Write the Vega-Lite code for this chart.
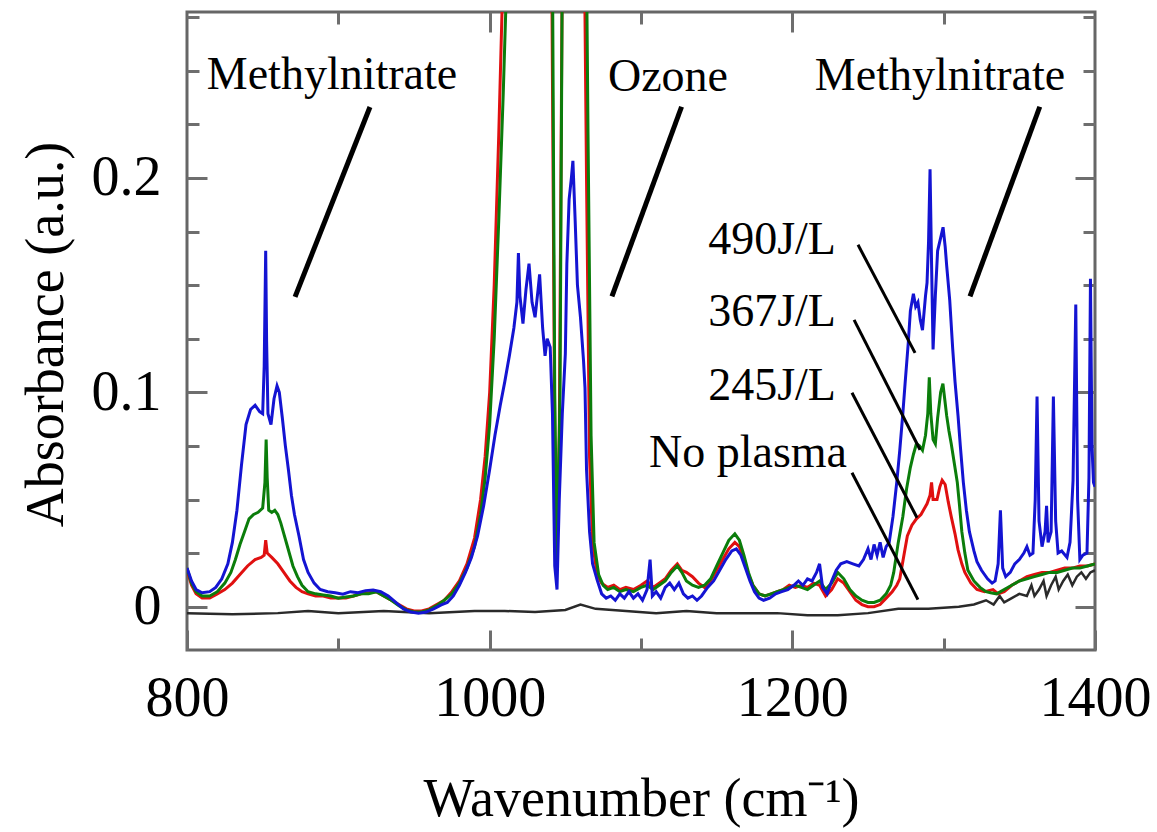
{
  "$schema": "https://vega.github.io/schema/vega-lite/v6.json",
  "width": 908,
  "height": 638,
  "autosize": {"type": "none"},
  "padding": {"left": 187, "top": 12, "right": 62, "bottom": 182},
  "background": "white",
  "config": {
    "view": {"stroke": "#666666", "strokeWidth": 3},
    "font": "Liberation Serif",
    "axis": {"domain": false, "grid": false, "tickColor": "#6e6e6e", "tickWidth": 3, "labelFont": "Liberation Serif", "titleFont": "Liberation Serif", "labelColor": "black", "titleColor": "black", "titleFontWeight": "normal"}
  },
  "datasets": {
    "noplasma": [
      {"wn": 800, "abs": -0.003}, {"wn": 830, "abs": -0.0035}, {"wn": 860, "abs": -0.003}, {"wn": 880, "abs": -0.002},
      {"wn": 900, "abs": -0.003}, {"wn": 930, "abs": -0.002}, {"wn": 960, "abs": -0.003}, {"wn": 990, "abs": -0.002},
      {"wn": 1010, "abs": -0.002}, {"wn": 1030, "abs": -0.0025}, {"wn": 1050, "abs": -0.0015}, {"wn": 1060, "abs": 0.001},
      {"wn": 1070, "abs": -0.001}, {"wn": 1090, "abs": -0.002}, {"wn": 1110, "abs": -0.003}, {"wn": 1130, "abs": -0.002},
      {"wn": 1150, "abs": -0.003}, {"wn": 1170, "abs": -0.003}, {"wn": 1190, "abs": -0.003}, {"wn": 1210, "abs": -0.004},
      {"wn": 1230, "abs": -0.004}, {"wn": 1250, "abs": -0.003}, {"wn": 1270, "abs": -0.001}, {"wn": 1290, "abs": -0.001},
      {"wn": 1310, "abs": 0.0}, {"wn": 1320, "abs": 0.001}, {"wn": 1328, "abs": 0.003}, {"wn": 1333, "abs": 0.001},
      {"wn": 1337, "abs": 0.005}, {"wn": 1340, "abs": 0.002}, {"wn": 1345, "abs": 0.004}, {"wn": 1350, "abs": 0.006},
      {"wn": 1355, "abs": 0.005}, {"wn": 1358, "abs": 0.01}, {"wn": 1360, "abs": 0.005}, {"wn": 1363, "abs": 0.008},
      {"wn": 1366, "abs": 0.012}, {"wn": 1368, "abs": 0.005}, {"wn": 1371, "abs": 0.01}, {"wn": 1374, "abs": 0.014},
      {"wn": 1376, "abs": 0.008}, {"wn": 1379, "abs": 0.012}, {"wn": 1382, "abs": 0.015}, {"wn": 1385, "abs": 0.01},
      {"wn": 1388, "abs": 0.014}, {"wn": 1391, "abs": 0.016}, {"wn": 1394, "abs": 0.013}, {"wn": 1397, "abs": 0.016},
      {"wn": 1400, "abs": 0.017}
    ],
    "j245": [
      {"wn": 800, "abs": 0.017}, {"wn": 803, "abs": 0.01}, {"wn": 806, "abs": 0.006}, {"wn": 810, "abs": 0.004},
      {"wn": 815, "abs": 0.004}, {"wn": 820, "abs": 0.006}, {"wn": 825, "abs": 0.008}, {"wn": 830, "abs": 0.011},
      {"wn": 835, "abs": 0.015}, {"wn": 840, "abs": 0.019}, {"wn": 845, "abs": 0.022}, {"wn": 849, "abs": 0.023},
      {"wn": 851, "abs": 0.024}, {"wn": 852, "abs": 0.031}, {"wn": 853, "abs": 0.025}, {"wn": 856, "abs": 0.023},
      {"wn": 860, "abs": 0.02}, {"wn": 864, "abs": 0.016}, {"wn": 868, "abs": 0.012}, {"wn": 872, "abs": 0.009},
      {"wn": 876, "abs": 0.007}, {"wn": 880, "abs": 0.006}, {"wn": 885, "abs": 0.005}, {"wn": 890, "abs": 0.005},
      {"wn": 895, "abs": 0.004}, {"wn": 900, "abs": 0.004}, {"wn": 905, "abs": 0.004}, {"wn": 910, "abs": 0.005},
      {"wn": 915, "abs": 0.006}, {"wn": 920, "abs": 0.0065}, {"wn": 925, "abs": 0.007}, {"wn": 930, "abs": 0.005},
      {"wn": 935, "abs": 0.003}, {"wn": 940, "abs": 0.001}, {"wn": 945, "abs": -0.001}, {"wn": 950, "abs": -0.002},
      {"wn": 955, "abs": -0.002}, {"wn": 960, "abs": -0.001}, {"wn": 965, "abs": 0.001}, {"wn": 970, "abs": 0.003},
      {"wn": 975, "abs": 0.007}, {"wn": 980, "abs": 0.012}, {"wn": 985, "abs": 0.02}, {"wn": 990, "abs": 0.032},
      {"wn": 994, "abs": 0.05}, {"wn": 997, "abs": 0.07}, {"wn": 1000, "abs": 0.1}, {"wn": 1003, "abs": 0.15},
      {"wn": 1006, "abs": 0.22}, {"wn": 1009, "abs": 0.3}, {"wn": 1012, "abs": 0.38}, {"wn": 1016, "abs": 0.45},
      {"wn": 1030, "abs": 0.5}, {"wn": 1039, "abs": 0.45}, {"wn": 1041, "abs": 0.3}, {"wn": 1043, "abs": 0.08},
      {"wn": 1044.5, "abs": 0.025}, {"wn": 1046, "abs": 0.08}, {"wn": 1048, "abs": 0.3}, {"wn": 1050, "abs": 0.45},
      {"wn": 1060, "abs": 0.45}, {"wn": 1062, "abs": 0.35}, {"wn": 1064, "abs": 0.2}, {"wn": 1066, "abs": 0.07},
      {"wn": 1068, "abs": 0.03}, {"wn": 1071, "abs": 0.015}, {"wn": 1074, "abs": 0.011}, {"wn": 1078, "abs": 0.009},
      {"wn": 1082, "abs": 0.01}, {"wn": 1086, "abs": 0.008}, {"wn": 1090, "abs": 0.009}, {"wn": 1095, "abs": 0.008},
      {"wn": 1100, "abs": 0.01}, {"wn": 1104, "abs": 0.012}, {"wn": 1108, "abs": 0.009}, {"wn": 1112, "abs": 0.011},
      {"wn": 1116, "abs": 0.013}, {"wn": 1120, "abs": 0.017}, {"wn": 1124, "abs": 0.02}, {"wn": 1127, "abs": 0.017},
      {"wn": 1130, "abs": 0.016}, {"wn": 1134, "abs": 0.014}, {"wn": 1138, "abs": 0.011}, {"wn": 1142, "abs": 0.009},
      {"wn": 1146, "abs": 0.012}, {"wn": 1150, "abs": 0.017}, {"wn": 1154, "abs": 0.022}, {"wn": 1158, "abs": 0.027},
      {"wn": 1162, "abs": 0.03}, {"wn": 1165, "abs": 0.028}, {"wn": 1168, "abs": 0.022}, {"wn": 1171, "abs": 0.015},
      {"wn": 1174, "abs": 0.01}, {"wn": 1178, "abs": 0.006}, {"wn": 1182, "abs": 0.005}, {"wn": 1186, "abs": 0.006},
      {"wn": 1190, "abs": 0.007}, {"wn": 1194, "abs": 0.008}, {"wn": 1198, "abs": 0.01}, {"wn": 1202, "abs": 0.009},
      {"wn": 1206, "abs": 0.01}, {"wn": 1210, "abs": 0.009}, {"wn": 1214, "abs": 0.011}, {"wn": 1218, "abs": 0.01},
      {"wn": 1222, "abs": 0.005}, {"wn": 1226, "abs": 0.008}, {"wn": 1230, "abs": 0.013}, {"wn": 1234, "abs": 0.011},
      {"wn": 1238, "abs": 0.007}, {"wn": 1242, "abs": 0.003}, {"wn": 1246, "abs": 0.001}, {"wn": 1250, "abs": 0.0},
      {"wn": 1254, "abs": 0.0}, {"wn": 1258, "abs": 0.001}, {"wn": 1262, "abs": 0.004}, {"wn": 1266, "abs": 0.007},
      {"wn": 1269, "abs": 0.01}, {"wn": 1271, "abs": 0.013}, {"wn": 1274, "abs": 0.025}, {"wn": 1276, "abs": 0.033},
      {"wn": 1279, "abs": 0.038}, {"wn": 1282, "abs": 0.041}, {"wn": 1285, "abs": 0.043}, {"wn": 1289, "abs": 0.048},
      {"wn": 1291, "abs": 0.052}, {"wn": 1292, "abs": 0.058}, {"wn": 1293, "abs": 0.05}, {"wn": 1295.6, "abs": 0.05},
      {"wn": 1297.5, "abs": 0.056}, {"wn": 1299, "abs": 0.059}, {"wn": 1301, "abs": 0.057}, {"wn": 1303, "abs": 0.049},
      {"wn": 1305, "abs": 0.042}, {"wn": 1307.5, "abs": 0.034}, {"wn": 1309.5, "abs": 0.0265}, {"wn": 1312, "abs": 0.02},
      {"wn": 1314, "abs": 0.016}, {"wn": 1318, "abs": 0.011}, {"wn": 1322, "abs": 0.008}, {"wn": 1327, "abs": 0.007},
      {"wn": 1332.6, "abs": 0.008}, {"wn": 1336, "abs": 0.006}, {"wn": 1340, "abs": 0.007}, {"wn": 1345, "abs": 0.01},
      {"wn": 1350, "abs": 0.012}, {"wn": 1355, "abs": 0.014}, {"wn": 1360, "abs": 0.015}, {"wn": 1365, "abs": 0.016},
      {"wn": 1370, "abs": 0.016}, {"wn": 1375, "abs": 0.017}, {"wn": 1380, "abs": 0.018}, {"wn": 1385, "abs": 0.018},
      {"wn": 1390, "abs": 0.019}, {"wn": 1395, "abs": 0.019}, {"wn": 1400, "abs": 0.02}
    ],
    "j367": [
      {"wn": 800, "abs": 0.018}, {"wn": 803, "abs": 0.011}, {"wn": 806, "abs": 0.007}, {"wn": 810, "abs": 0.005},
      {"wn": 815, "abs": 0.005}, {"wn": 820, "abs": 0.007}, {"wn": 825, "abs": 0.011}, {"wn": 829, "abs": 0.016},
      {"wn": 832, "abs": 0.022}, {"wn": 835, "abs": 0.029}, {"wn": 838, "abs": 0.035}, {"wn": 841, "abs": 0.041},
      {"wn": 844, "abs": 0.043}, {"wn": 847, "abs": 0.044}, {"wn": 850, "abs": 0.046}, {"wn": 851.5, "abs": 0.058},
      {"wn": 852.3, "abs": 0.078}, {"wn": 853, "abs": 0.06}, {"wn": 854, "abs": 0.045}, {"wn": 856, "abs": 0.044},
      {"wn": 858, "abs": 0.045}, {"wn": 860, "abs": 0.043}, {"wn": 862, "abs": 0.039}, {"wn": 864, "abs": 0.034},
      {"wn": 866, "abs": 0.029}, {"wn": 868, "abs": 0.024}, {"wn": 870, "abs": 0.019}, {"wn": 873, "abs": 0.014},
      {"wn": 876, "abs": 0.01}, {"wn": 880, "abs": 0.007}, {"wn": 885, "abs": 0.006}, {"wn": 890, "abs": 0.0055},
      {"wn": 895, "abs": 0.005}, {"wn": 900, "abs": 0.004}, {"wn": 905, "abs": 0.0045}, {"wn": 910, "abs": 0.005},
      {"wn": 915, "abs": 0.006}, {"wn": 920, "abs": 0.006}, {"wn": 925, "abs": 0.007}, {"wn": 930, "abs": 0.005},
      {"wn": 935, "abs": 0.003}, {"wn": 940, "abs": 0.0005}, {"wn": 945, "abs": -0.0015}, {"wn": 950, "abs": -0.0025},
      {"wn": 955, "abs": -0.0025}, {"wn": 960, "abs": -0.0015}, {"wn": 965, "abs": 0.0005}, {"wn": 970, "abs": 0.003},
      {"wn": 975, "abs": 0.006}, {"wn": 980, "abs": 0.011}, {"wn": 985, "abs": 0.018}, {"wn": 990, "abs": 0.028},
      {"wn": 994, "abs": 0.043}, {"wn": 997, "abs": 0.06}, {"wn": 1000, "abs": 0.085}, {"wn": 1003, "abs": 0.125},
      {"wn": 1006, "abs": 0.18}, {"wn": 1009, "abs": 0.24}, {"wn": 1012, "abs": 0.31}, {"wn": 1015, "abs": 0.38},
      {"wn": 1018, "abs": 0.45}, {"wn": 1030, "abs": 0.5}, {"wn": 1040, "abs": 0.45}, {"wn": 1041.5, "abs": 0.3},
      {"wn": 1043, "abs": 0.1}, {"wn": 1044.5, "abs": 0.02}, {"wn": 1046.5, "abs": 0.1}, {"wn": 1048, "abs": 0.3},
      {"wn": 1050, "abs": 0.45}, {"wn": 1061, "abs": 0.45}, {"wn": 1063, "abs": 0.38}, {"wn": 1065, "abs": 0.22},
      {"wn": 1067, "abs": 0.08}, {"wn": 1069, "abs": 0.03}, {"wn": 1072, "abs": 0.015}, {"wn": 1075, "abs": 0.01},
      {"wn": 1078, "abs": 0.008}, {"wn": 1082, "abs": 0.009}, {"wn": 1086, "abs": 0.007}, {"wn": 1090, "abs": 0.008},
      {"wn": 1095, "abs": 0.007}, {"wn": 1100, "abs": 0.009}, {"wn": 1104, "abs": 0.01}, {"wn": 1108, "abs": 0.008},
      {"wn": 1112, "abs": 0.01}, {"wn": 1116, "abs": 0.012}, {"wn": 1120, "abs": 0.016}, {"wn": 1124, "abs": 0.019},
      {"wn": 1127, "abs": 0.016}, {"wn": 1130, "abs": 0.012}, {"wn": 1134, "abs": 0.01}, {"wn": 1138, "abs": 0.009},
      {"wn": 1142, "abs": 0.01}, {"wn": 1146, "abs": 0.013}, {"wn": 1150, "abs": 0.019}, {"wn": 1154, "abs": 0.025},
      {"wn": 1158, "abs": 0.031}, {"wn": 1162, "abs": 0.034}, {"wn": 1165, "abs": 0.031}, {"wn": 1168, "abs": 0.024},
      {"wn": 1171, "abs": 0.016}, {"wn": 1174, "abs": 0.01}, {"wn": 1178, "abs": 0.006}, {"wn": 1182, "abs": 0.005},
      {"wn": 1186, "abs": 0.006}, {"wn": 1190, "abs": 0.007}, {"wn": 1194, "abs": 0.008}, {"wn": 1198, "abs": 0.009},
      {"wn": 1202, "abs": 0.01}, {"wn": 1206, "abs": 0.009}, {"wn": 1210, "abs": 0.008}, {"wn": 1214, "abs": 0.01},
      {"wn": 1218, "abs": 0.012}, {"wn": 1222, "abs": 0.008}, {"wn": 1226, "abs": 0.011}, {"wn": 1230, "abs": 0.016},
      {"wn": 1234, "abs": 0.013}, {"wn": 1238, "abs": 0.008}, {"wn": 1242, "abs": 0.005}, {"wn": 1246, "abs": 0.003},
      {"wn": 1250, "abs": 0.002}, {"wn": 1254, "abs": 0.002}, {"wn": 1258, "abs": 0.003}, {"wn": 1262, "abs": 0.006},
      {"wn": 1265, "abs": 0.01}, {"wn": 1267, "abs": 0.016}, {"wn": 1270, "abs": 0.03}, {"wn": 1273, "abs": 0.042},
      {"wn": 1275.5, "abs": 0.055}, {"wn": 1278, "abs": 0.065}, {"wn": 1280, "abs": 0.071}, {"wn": 1282, "abs": 0.076},
      {"wn": 1284, "abs": 0.075}, {"wn": 1286, "abs": 0.073}, {"wn": 1288, "abs": 0.08}, {"wn": 1289.5, "abs": 0.09},
      {"wn": 1290.5, "abs": 0.107}, {"wn": 1291.5, "abs": 0.09}, {"wn": 1293, "abs": 0.078}, {"wn": 1294.5, "abs": 0.076},
      {"wn": 1296, "abs": 0.088}, {"wn": 1298, "abs": 0.1}, {"wn": 1299.5, "abs": 0.104}, {"wn": 1301, "abs": 0.095},
      {"wn": 1302, "abs": 0.089}, {"wn": 1303.5, "abs": 0.082}, {"wn": 1305, "abs": 0.076}, {"wn": 1307, "abs": 0.067},
      {"wn": 1309, "abs": 0.058}, {"wn": 1310.5, "abs": 0.047}, {"wn": 1312, "abs": 0.035}, {"wn": 1314, "abs": 0.025},
      {"wn": 1316, "abs": 0.017}, {"wn": 1320, "abs": 0.012}, {"wn": 1324, "abs": 0.009}, {"wn": 1328, "abs": 0.007},
      {"wn": 1331, "abs": 0.0065}, {"wn": 1335, "abs": 0.006}, {"wn": 1340, "abs": 0.008}, {"wn": 1345, "abs": 0.01},
      {"wn": 1350, "abs": 0.012}, {"wn": 1355, "abs": 0.013}, {"wn": 1360, "abs": 0.014}, {"wn": 1365, "abs": 0.015},
      {"wn": 1370, "abs": 0.016}, {"wn": 1375, "abs": 0.016}, {"wn": 1380, "abs": 0.017}, {"wn": 1385, "abs": 0.018},
      {"wn": 1390, "abs": 0.018}, {"wn": 1395, "abs": 0.019}, {"wn": 1400, "abs": 0.02}
    ],
    "j490": [
      {"wn": 800, "abs": 0.018}, {"wn": 803, "abs": 0.012}, {"wn": 806, "abs": 0.008}, {"wn": 810, "abs": 0.0065},
      {"wn": 815, "abs": 0.007}, {"wn": 819, "abs": 0.009}, {"wn": 823, "abs": 0.013}, {"wn": 827, "abs": 0.02},
      {"wn": 830, "abs": 0.03}, {"wn": 833, "abs": 0.045}, {"wn": 836, "abs": 0.066}, {"wn": 839, "abs": 0.085},
      {"wn": 842, "abs": 0.092}, {"wn": 845, "abs": 0.094}, {"wn": 848, "abs": 0.091}, {"wn": 850, "abs": 0.09},
      {"wn": 851, "abs": 0.112}, {"wn": 852, "abs": 0.166}, {"wn": 852.6, "abs": 0.124}, {"wn": 853.5, "abs": 0.09},
      {"wn": 855.5, "abs": 0.085}, {"wn": 857.5, "abs": 0.097}, {"wn": 859.5, "abs": 0.103}, {"wn": 861, "abs": 0.1},
      {"wn": 863, "abs": 0.088}, {"wn": 865, "abs": 0.075}, {"wn": 867, "abs": 0.064}, {"wn": 869, "abs": 0.052},
      {"wn": 871, "abs": 0.043}, {"wn": 874, "abs": 0.033}, {"wn": 877, "abs": 0.022}, {"wn": 880, "abs": 0.016},
      {"wn": 884, "abs": 0.011}, {"wn": 888, "abs": 0.008}, {"wn": 893, "abs": 0.007}, {"wn": 898, "abs": 0.0065},
      {"wn": 903, "abs": 0.0058}, {"wn": 908, "abs": 0.007}, {"wn": 913, "abs": 0.0065}, {"wn": 918, "abs": 0.0075},
      {"wn": 923, "abs": 0.0078}, {"wn": 928, "abs": 0.007}, {"wn": 933, "abs": 0.005}, {"wn": 938, "abs": 0.002},
      {"wn": 943, "abs": -0.001}, {"wn": 948, "abs": -0.0025}, {"wn": 953, "abs": -0.003}, {"wn": 958, "abs": -0.0025},
      {"wn": 963, "abs": -0.001}, {"wn": 968, "abs": 0.0008}, {"wn": 972, "abs": 0.002}, {"wn": 976, "abs": 0.005},
      {"wn": 980, "abs": 0.01}, {"wn": 984, "abs": 0.016}, {"wn": 988, "abs": 0.023}, {"wn": 992, "abs": 0.033},
      {"wn": 996, "abs": 0.047}, {"wn": 1000, "abs": 0.064}, {"wn": 1003.5, "abs": 0.08}, {"wn": 1007, "abs": 0.094},
      {"wn": 1010, "abs": 0.105}, {"wn": 1013, "abs": 0.117}, {"wn": 1016, "abs": 0.13}, {"wn": 1018, "abs": 0.142},
      {"wn": 1019, "abs": 0.165}, {"wn": 1020, "abs": 0.145}, {"wn": 1022, "abs": 0.132}, {"wn": 1024, "abs": 0.148},
      {"wn": 1026, "abs": 0.16}, {"wn": 1028, "abs": 0.142}, {"wn": 1030, "abs": 0.135}, {"wn": 1032, "abs": 0.148},
      {"wn": 1033, "abs": 0.155}, {"wn": 1035, "abs": 0.13}, {"wn": 1036.6, "abs": 0.117}, {"wn": 1038, "abs": 0.125},
      {"wn": 1040, "abs": 0.121}, {"wn": 1041.5, "abs": 0.09}, {"wn": 1043, "abs": 0.019}, {"wn": 1044.5, "abs": 0.008},
      {"wn": 1046, "abs": 0.05}, {"wn": 1048, "abs": 0.09}, {"wn": 1050, "abs": 0.118}, {"wn": 1051, "abs": 0.16},
      {"wn": 1052.5, "abs": 0.19}, {"wn": 1054, "abs": 0.2}, {"wn": 1055, "abs": 0.208}, {"wn": 1056.5, "abs": 0.18},
      {"wn": 1058, "abs": 0.15}, {"wn": 1060, "abs": 0.135}, {"wn": 1062, "abs": 0.115}, {"wn": 1063, "abs": 0.102},
      {"wn": 1064, "abs": 0.064}, {"wn": 1066, "abs": 0.035}, {"wn": 1068, "abs": 0.02}, {"wn": 1071, "abs": 0.0125},
      {"wn": 1074, "abs": 0.006}, {"wn": 1077, "abs": 0.004}, {"wn": 1080, "abs": 0.005}, {"wn": 1083, "abs": 0.003},
      {"wn": 1086, "abs": 0.006}, {"wn": 1089, "abs": 0.004}, {"wn": 1092, "abs": 0.007}, {"wn": 1095, "abs": 0.004},
      {"wn": 1098, "abs": 0.006}, {"wn": 1101, "abs": 0.003}, {"wn": 1104, "abs": 0.008}, {"wn": 1106, "abs": 0.022},
      {"wn": 1107.5, "abs": 0.005}, {"wn": 1110, "abs": 0.007}, {"wn": 1113, "abs": 0.004}, {"wn": 1116, "abs": 0.009},
      {"wn": 1119, "abs": 0.011}, {"wn": 1122, "abs": 0.008}, {"wn": 1125, "abs": 0.011}, {"wn": 1128, "abs": 0.006},
      {"wn": 1131, "abs": 0.004}, {"wn": 1134, "abs": 0.005}, {"wn": 1137, "abs": 0.003}, {"wn": 1140, "abs": 0.005},
      {"wn": 1144, "abs": 0.009}, {"wn": 1148, "abs": 0.012}, {"wn": 1152, "abs": 0.017}, {"wn": 1156, "abs": 0.022},
      {"wn": 1160, "abs": 0.026}, {"wn": 1163, "abs": 0.027}, {"wn": 1166, "abs": 0.024}, {"wn": 1169, "abs": 0.018},
      {"wn": 1172, "abs": 0.012}, {"wn": 1175, "abs": 0.007}, {"wn": 1178, "abs": 0.004}, {"wn": 1181, "abs": 0.003},
      {"wn": 1185, "abs": 0.004}, {"wn": 1189, "abs": 0.006}, {"wn": 1193, "abs": 0.007}, {"wn": 1197, "abs": 0.008},
      {"wn": 1201, "abs": 0.01}, {"wn": 1204, "abs": 0.012}, {"wn": 1207, "abs": 0.01}, {"wn": 1210, "abs": 0.013},
      {"wn": 1213, "abs": 0.012}, {"wn": 1216, "abs": 0.016}, {"wn": 1218, "abs": 0.02}, {"wn": 1220, "abs": 0.009},
      {"wn": 1223, "abs": 0.006}, {"wn": 1226, "abs": 0.012}, {"wn": 1229, "abs": 0.017}, {"wn": 1232, "abs": 0.02},
      {"wn": 1236, "abs": 0.021}, {"wn": 1240, "abs": 0.02}, {"wn": 1244, "abs": 0.019}, {"wn": 1247, "abs": 0.022},
      {"wn": 1250, "abs": 0.027}, {"wn": 1252, "abs": 0.022}, {"wn": 1254, "abs": 0.029}, {"wn": 1256, "abs": 0.024},
      {"wn": 1258, "abs": 0.03}, {"wn": 1260, "abs": 0.023}, {"wn": 1262, "abs": 0.028}, {"wn": 1264, "abs": 0.03},
      {"wn": 1266.5, "abs": 0.042}, {"wn": 1269, "abs": 0.058}, {"wn": 1271, "abs": 0.073}, {"wn": 1273, "abs": 0.09},
      {"wn": 1274.5, "abs": 0.104}, {"wn": 1276.6, "abs": 0.123}, {"wn": 1278, "abs": 0.138}, {"wn": 1280, "abs": 0.146},
      {"wn": 1281.5, "abs": 0.14}, {"wn": 1283, "abs": 0.142}, {"wn": 1284.5, "abs": 0.134}, {"wn": 1286, "abs": 0.129},
      {"wn": 1288, "abs": 0.145}, {"wn": 1289, "abs": 0.151}, {"wn": 1290, "abs": 0.17}, {"wn": 1291, "abs": 0.204},
      {"wn": 1292, "abs": 0.16}, {"wn": 1293, "abs": 0.12}, {"wn": 1294.5, "abs": 0.145}, {"wn": 1296, "abs": 0.166},
      {"wn": 1298, "abs": 0.172}, {"wn": 1299.6, "abs": 0.177}, {"wn": 1301, "abs": 0.168}, {"wn": 1302, "abs": 0.159},
      {"wn": 1304, "abs": 0.143}, {"wn": 1306, "abs": 0.12}, {"wn": 1307.5, "abs": 0.105}, {"wn": 1309.5, "abs": 0.089},
      {"wn": 1311, "abs": 0.075}, {"wn": 1313, "abs": 0.058}, {"wn": 1315, "abs": 0.045}, {"wn": 1317, "abs": 0.035},
      {"wn": 1320, "abs": 0.026}, {"wn": 1322, "abs": 0.021}, {"wn": 1325, "abs": 0.017}, {"wn": 1329, "abs": 0.013},
      {"wn": 1332, "abs": 0.011}, {"wn": 1334, "abs": 0.012}, {"wn": 1336, "abs": 0.02}, {"wn": 1337.5, "abs": 0.045},
      {"wn": 1339, "abs": 0.018}, {"wn": 1341, "abs": 0.014}, {"wn": 1344, "abs": 0.016}, {"wn": 1347, "abs": 0.02},
      {"wn": 1350, "abs": 0.022}, {"wn": 1353, "abs": 0.025}, {"wn": 1355, "abs": 0.028}, {"wn": 1357, "abs": 0.024},
      {"wn": 1359, "abs": 0.025}, {"wn": 1360.5, "abs": 0.05}, {"wn": 1361.7, "abs": 0.098}, {"wn": 1363, "abs": 0.04},
      {"wn": 1365, "abs": 0.028}, {"wn": 1367, "abs": 0.035}, {"wn": 1368, "abs": 0.047}, {"wn": 1369, "abs": 0.03},
      {"wn": 1371, "abs": 0.035}, {"wn": 1372.5, "abs": 0.098}, {"wn": 1374, "abs": 0.04}, {"wn": 1375.6, "abs": 0.025},
      {"wn": 1378, "abs": 0.026}, {"wn": 1381.5, "abs": 0.023}, {"wn": 1383.5, "abs": 0.03}, {"wn": 1385.5, "abs": 0.059},
      {"wn": 1387.3, "abs": 0.141}, {"wn": 1388.5, "abs": 0.05}, {"wn": 1390, "abs": 0.022}, {"wn": 1392, "abs": 0.024},
      {"wn": 1394.7, "abs": 0.025}, {"wn": 1396, "abs": 0.06}, {"wn": 1397, "abs": 0.153}, {"wn": 1398, "abs": 0.075},
      {"wn": 1399, "abs": 0.058}, {"wn": 1400, "abs": 0.056}
    ],
    "leadBig": [
      {"x1": 920.9, "y1": 0.2331, "x2": 871.4, "y2": 0.1445},
      {"x1": 1126.8, "y1": 0.2332, "x2": 1080.8, "y2": 0.1447},
      {"x1": 1363.5, "y1": 0.2332, "x2": 1317.4, "y2": 0.1447}
    ],
    "leadSmall": [
      {"x1": 1243.4, "y1": 0.1688, "x2": 1281.1, "y2": 0.1184},
      {"x1": 1240.8, "y1": 0.1338, "x2": 1284.4, "y2": 0.0732},
      {"x1": 1239.4, "y1": 0.0998, "x2": 1282.4, "y2": 0.0415},
      {"x1": 1239.4, "y1": 0.0625, "x2": 1283.0, "y2": 0.0033}
    ],
    "labels": [
      {"x": 895.8, "y": 0.248, "label": "Methylnitrate"},
      {"x": 1117.8, "y": 0.2471, "label": "Ozone"},
      {"x": 1297.6, "y": 0.2476, "label": "Methylnitrate"},
      {"x": 1186.6, "y": 0.1711, "label": "490J/L"},
      {"x": 1186.6, "y": 0.1375, "label": "367J/L"},
      {"x": 1186.6, "y": 0.103, "label": "245J/L"},
      {"x": 1170.7, "y": 0.0718, "label": "No plasma"}
    ]
  },
  "layer": [
    {
      "data": {"name": "noplasma"},
      "mark": {"type": "line", "color": "#2a2a2a", "strokeWidth": 2.5, "clip": true},
      "encoding": {
        "x": {"field": "wn", "type": "quantitative", "scale": {"domain": [800, 1400], "nice": false, "zero": false},
          "axis": {"orient": "bottom", "values": [800, 1000, 1200, 1400], "format": "d", "tickSize": -20, "labelFontSize": 56, "labelPadding": 41, "labelFlush": false, "labelOverlap": false, "title": "Wavenumber (cm⁻¹)", "titleFontSize": 54, "titleY": 165, "titleBaseline": "alphabetic"}},
        "y": {"field": "abs", "type": "quantitative", "scale": {"domain": [-0.0202, 0.2774], "nice": false, "zero": false},
          "axis": {"orient": "left", "values": [0, 0.1, 0.2], "format": ".1~f", "tickSize": -20, "labelFontSize": 56, "labelPadding": 46, "labelFlush": false, "labelOverlap": false, "title": "Absorbance (a.u.)", "titleFontSize": 54, "titleX": -125, "titleY": 322, "titleAngle": -90, "titleAlign": "center", "titleBaseline": "alphabetic"}}
      }
    },
    {
      "data": {"name": "j245"},
      "mark": {"type": "line", "color": "#e01010", "strokeWidth": 3, "clip": true},
      "encoding": {
        "x": {"field": "wn", "type": "quantitative", "scale": {"domain": [800, 1400], "nice": false, "zero": false},
          "axis": {"orient": "bottom", "values": [900, 1100, 1300], "tickSize": -12, "labels": false, "title": null}},
        "y": {"field": "abs", "type": "quantitative", "scale": {"domain": [-0.0202, 0.2774], "nice": false, "zero": false},
          "axis": {"orient": "left", "values": [0.025, 0.05, 0.075, 0.125, 0.15, 0.175, 0.225, 0.25, 0.275], "tickSize": -12, "labels": false, "title": null}}
      }
    },
    {
      "data": {"name": "j367"},
      "mark": {"type": "line", "color": "#0b7d0b", "strokeWidth": 3, "clip": true},
      "encoding": {
        "x": {"field": "wn", "type": "quantitative", "scale": {"domain": [800, 1400], "nice": false, "zero": false},
          "axis": {"orient": "top", "values": [1000, 1200], "tickSize": -20, "labels": false, "title": null}},
        "y": {"field": "abs", "type": "quantitative", "scale": {"domain": [-0.0202, 0.2774], "nice": false, "zero": false},
          "axis": {"orient": "right", "values": [0, 0.1, 0.2], "tickSize": -20, "labels": false, "title": null}}
      }
    },
    {
      "data": {"name": "j490"},
      "mark": {"type": "line", "color": "#1414d2", "strokeWidth": 3, "clip": true},
      "encoding": {
        "x": {"field": "wn", "type": "quantitative", "scale": {"domain": [800, 1400], "nice": false, "zero": false},
          "axis": {"orient": "top", "values": [900, 1100, 1300], "tickSize": -12, "labels": false, "title": null}},
        "y": {"field": "abs", "type": "quantitative", "scale": {"domain": [-0.0202, 0.2774], "nice": false, "zero": false},
          "axis": {"orient": "right", "values": [0.025, 0.05, 0.075, 0.125, 0.15, 0.175, 0.225, 0.25, 0.275], "tickSize": -12, "labels": false, "title": null}}
      }
    },
    {
      "data": {"name": "leadBig"},
      "mark": {"type": "rule", "color": "black", "strokeWidth": 5},
      "encoding": {
        "x": {"field": "x1", "type": "quantitative", "axis": null},
        "y": {"field": "y1", "type": "quantitative", "axis": null},
        "x2": {"field": "x2"},
        "y2": {"field": "y2"}
      }
    },
    {
      "data": {"name": "leadSmall"},
      "mark": {"type": "rule", "color": "black", "strokeWidth": 3},
      "encoding": {
        "x": {"field": "x1", "type": "quantitative", "axis": null},
        "y": {"field": "y1", "type": "quantitative", "axis": null},
        "x2": {"field": "x2"},
        "y2": {"field": "y2"}
      }
    },
    {
      "data": {"name": "labels"},
      "mark": {"type": "text", "font": "Liberation Serif", "fontSize": 46, "color": "black", "align": "center", "baseline": "middle"},
      "encoding": {
        "x": {"field": "x", "type": "quantitative", "axis": null},
        "y": {"field": "y", "type": "quantitative", "axis": null},
        "text": {"field": "label"}
      }
    }
  ],
  "resolve": {"axis": {"x": "independent", "y": "independent"}}
}
